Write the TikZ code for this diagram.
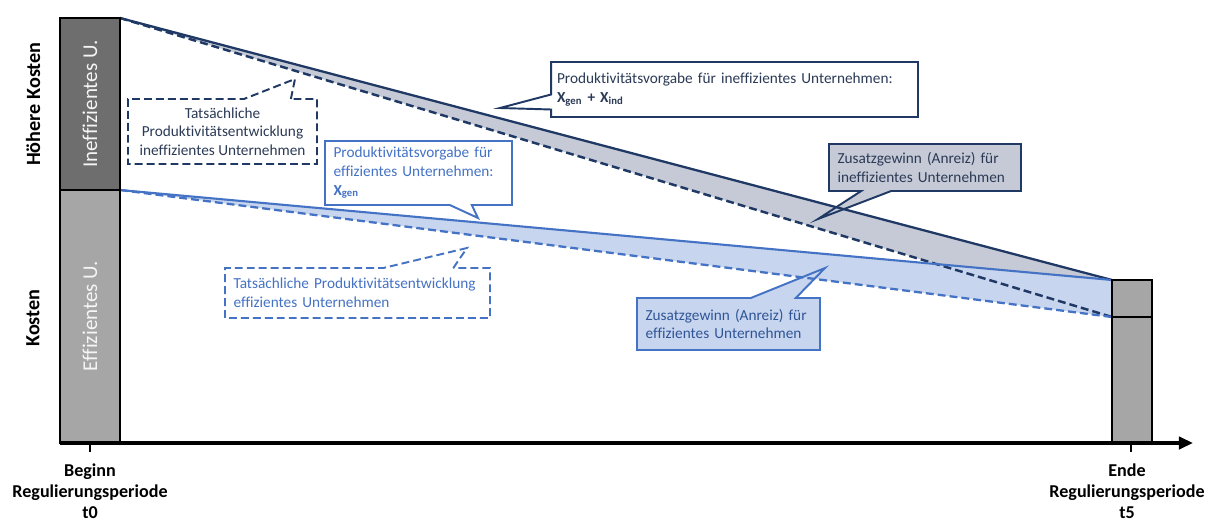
\documentclass[tikz,border=0pt]{standalone}
\usepackage{fontspec}
\setmainfont[Ligatures=NoCommon]{Carlito}
\usepackage{xcolor}
\usepackage{tikz}
\usetikzlibrary{shapes.callouts,arrows.meta}

\definecolor{dunkelblau}{HTML}{1F3864}
\definecolor{dunkeltext}{HTML}{2B3A55}
\definecolor{mittelblau}{HTML}{4472C4}
\definecolor{blautext}{HTML}{2F5597}
\definecolor{grauband}{HTML}{C5CAD6}
\definecolor{blauband}{HTML}{C7D5EE}
\definecolor{balkendunkel}{HTML}{6E6E6E}
\definecolor{balkenhell}{HTML}{A6A6A6}

\begin{document}
\begin{tikzpicture}[x=0.02cm, y=-0.02cm,
 blase/.style={rectangle callout, draw, line width=1.1pt, fill=white, align=left,
   font=\fontsize{8.7}{10.6}\selectfont, inner xsep=0.17cm, inner ysep=0pt},
 strich/.style={dash pattern=on 4.5pt off 2.3pt},
 achse/.style={font=\bfseries\fontsize{11.5}{13}\selectfont, rotate=90},
 zeit/.style={font=\bfseries\fontsize{10.3}{12}\selectfont, align=center},
 balken/.style={font=\fontsize{12}{14}\selectfont, rotate=90, text=white!92!gray}]
 \useasboundingbox (0,0) rectangle (1211,521);

 \coordinate (ineffStart) at (120,18);
 \coordinate (effStart) at (120,190);
 \coordinate (zielEnde) at (1112,280);
 \coordinate (istEnde) at (1112,317);

 % Zusatzgewinn
 \fill [grauband] (ineffStart) -- (zielEnde) -- (istEnde) -- cycle;
 \fill [blauband] (effStart) -- (zielEnde) -- (istEnde) -- cycle;
 \node [blase, draw=dunkelblau, fill=grauband, text=dunkeltext, text width=3.5cm, minimum height=0.94cm,
   callout absolute pointer={(818,219)}, callout pointer width=0.6cm] (gewinnIneff) at (925,167.5)
   {Zusatzgewinn (Anreiz) für\\ineffizientes Unternehmen};
 \node [blase, draw=mittelblau, fill=blauband, text=blautext, text width=3.32cm, minimum height=1.04cm,
   callout absolute pointer={(825,268)}, callout pointer width=0.9cm] (gewinnEff) at (728.5,324)
   {Zusatzgewinn (Anreiz) für\\effizientes Unternehmen};

 % Vorgabe und Entwicklung
 \draw [dunkelblau, line width=1.3pt] (ineffStart) -- (zielEnde);
 \draw [dunkelblau, line width=1.4pt, strich] (ineffStart) -- (istEnde);
 \draw [mittelblau, line width=1.2pt] (effStart) -- (zielEnde);
 \draw [mittelblau, line width=1.3pt, strich] (effStart) -- (istEnde);

 % Balken
 \draw [fill=balkendunkel, line width=0.9pt] (60,18) rectangle (120,190);
 \draw [fill=balkenhell, line width=0.9pt] (60,190) rectangle (120,443);
 \draw [fill=balkenhell, line width=0.9pt] (1112,280) rectangle (1152,317);
 \draw [fill=balkenhell, line width=0.9pt] (1112,317) rectangle (1152,443);
 \node [balken] (ineffU) at (90,104) {Ineffizientes U.};
 \node [balken] (effU) at (90,316) {Effizientes U.};

 \coordinate (ursprung) at (60,443);
 \coordinate (achsenende) at (1193,443);
 \draw [-{Triangle[length=8pt,width=7pt]}, line width=1.8pt] (ursprung) -- (achsenende);
 \draw [line width=0.8pt] (90,443) -- (90,452);
 \draw [line width=0.8pt] (1131,443) -- (1131,452);

 \node [achse] (hoeher) at (33,104) {Höhere Kosten};
 \node [achse] (kosten) at (33,318) {Kosten};
 \node [zeit] (beginn) at (90,491) {Beginn\\Regulierungsperiode\\t0};
 \node [zeit] (ende) at (1127,491) {Ende\\Regulierungsperiode\\t5};

 % Sprechblasen
 \node [blase, draw=dunkelblau, text=dunkeltext, text width=7.1cm, inner xsep=0.12cm, minimum height=1.1cm,
   callout absolute pointer={(500,108)}, callout pointer width=0.3cm] (vorgabeIneff) at (734.5,89.5)
   {Produktivitätsvorgabe für ineffizientes Unternehmen:\\\textbf{X\textsubscript{gen} + X\textsubscript{ind}}};
 \node [blase, draw=dunkelblau, text=dunkeltext, strich, align=center, minimum width=3.78cm, minimum height=1.3cm,
   callout absolute pointer={(295,79)}, callout pointer width=0.94cm] (istIneff) at (222.5,131.5)
   {Tatsächliche\\Produktivitätsentwicklung\\ineffizientes Unternehmen};
 \node [blase, draw=mittelblau, text=mittelblau, text width=3.4cm, minimum height=1.28cm,
   callout absolute pointer={(478,218)}, callout pointer width=0.44cm] (vorgabeEff) at (418.5,173)
   {Produktivitätsvorgabe für\\effizientes Unternehmen:\\\textbf{X\textsubscript{gen}}};
 \node [blase, draw=mittelblau, text=mittelblau, strich, text width=4.96cm, minimum height=1.0cm,
   callout absolute pointer={(467,248)}, callout pointer width=1.4cm] (istEff) at (357.5,293)
   {Tatsächliche Produktivitätsentwicklung\\effizientes Unternehmen};
\end{tikzpicture}
\end{document}
